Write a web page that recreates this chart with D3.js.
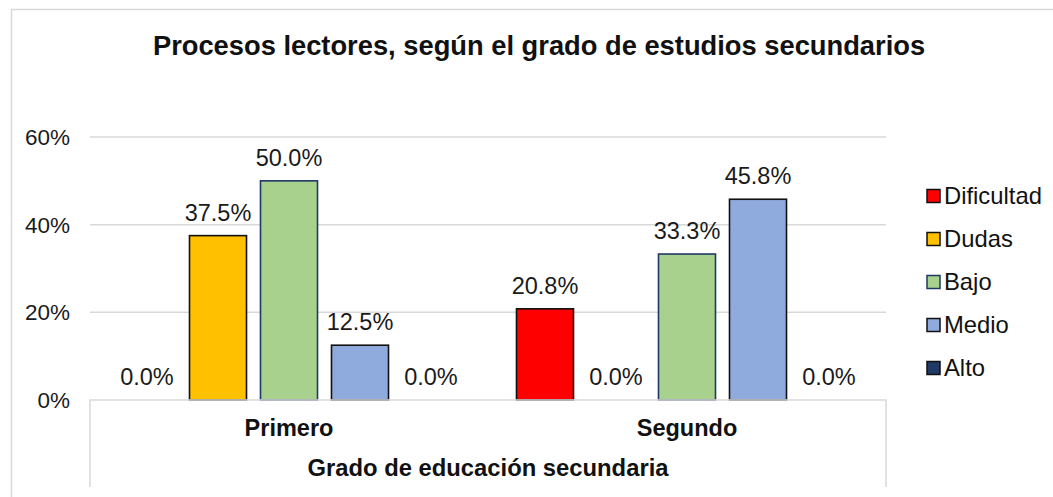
<!DOCTYPE html>
<html>
<head>
<meta charset="utf-8">
<script src="https://cdn.jsdelivr.net/npm/d3@7"></script>
<style>
  html, body { margin: 0; padding: 0; background: #fff; }
  svg { display: block; font-family: "Liberation Sans", Arial, sans-serif; }
</style>
</head>
<body>
<svg id="chart" width="1053" height="497"></svg>
<script>
const categories = ["Primero", "Segundo"];
const seriesNames = ["Dificultad", "Dudas", "Bajo", "Medio", "Alto"];
const dificultad = [0.0, 20.8];
const dudas = [37.5, 0.0];
const bajo = [50.0, 33.3];
const medio = [12.5, 45.8];
const alto = [0.0, 0.0];
const yTicks = [0, 20, 40, 60];
const fills = ["#FF0000", "#FFC000", "#A9D18E", "#8FAADC", "#203864"];
const strokes = ["#111111", "#111111", "#1F3864", "#111111", "#111111"];
const titleText = "Procesos lectores, según el grado de estudios secundarios";
const xTitleText = "Grado de educación secundaria";

const seriesValues = [dificultad, dudas, bajo, medio, alto];
const svg = d3.select("#chart");

// outer chart border
svg.append("path").attr("d", "M11.5,497 L11.5,9.5 L1053,9.5")
  .attr("fill", "none").attr("stroke", "#d9d9d9").attr("stroke-width", 1.5);

const plot = { left: 90, right: 886, top: 137, bottom: 400 };

const y = d3.scaleLinear().domain([0, 60]).range([plot.bottom, plot.top]);
const x0 = d3.scaleBand().domain(categories).range([plot.left, plot.right]).padding(0);
const x1 = d3.scaleBand().domain(seriesNames)
  .range([21.5, x0.bandwidth() - 21.5]).paddingInner(0.197).paddingOuter(0.0985);

// gridlines
svg.append("g").selectAll("line").data(yTicks.filter(d => d > 0)).join("line")
  .attr("x1", plot.left).attr("x2", plot.right)
  .attr("y1", d => y(d)).attr("y2", d => y(d))
  .attr("stroke", "#d9d9d9").attr("stroke-width", 1.5);

// y tick labels
svg.append("g").selectAll("text").data(yTicks).join("text")
  .attr("x", 70).attr("y", d => y(d)).attr("dy", "0.35em")
  .attr("text-anchor", "end").attr("font-size", 22.5).attr("fill", "#1a1a1a")
  .text(d => d + "%");

// title
svg.append("text").attr("x", 539).attr("y", 55).attr("text-anchor", "middle")
  .attr("font-size", 27.3).attr("font-weight", "bold").attr("fill", "#111")
  .text(titleText);

// bars
const groups = svg.append("g").selectAll("g").data(categories).join("g")
  .attr("transform", d => `translate(${x0(d)},0)`);

groups.each(function(cat, ci) {
  const g = d3.select(this);
  seriesNames.forEach((s, si) => {
    const v = seriesValues[si][ci];
    if (v > 0) {
      g.append("rect")
        .attr("x", x1(s)).attr("width", x1.bandwidth())
        .attr("y", y(v)).attr("height", y(0) - y(v))
        .attr("fill", fills[si]).attr("stroke", strokes[si]).attr("stroke-width", 1.6);
    }
    g.append("text")
      .attr("x", x1(s) + x1.bandwidth() / 2).attr("y", y(v) - 15)
      .attr("text-anchor", "middle").attr("font-size", 23.5).attr("fill", "#1a1a1a")
      .text(v.toFixed(1) + "%");
  });
});

// x axis box (table-like)
svg.append("path")
  .attr("d", `M${plot.left},487 L${plot.left},${plot.bottom} L${plot.right},${plot.bottom} L${plot.right},487`)
  .attr("fill", "none").attr("stroke", "#d9d9d9").attr("stroke-width", 1.5);

svg.append("g").selectAll("text").data(categories).join("text")
  .attr("x", d => x0(d) + x0.bandwidth() / 2).attr("y", 436)
  .attr("text-anchor", "middle").attr("font-size", 23.5).attr("font-weight", "bold").attr("fill", "#111")
  .text(d => d);

svg.append("text").attr("x", (plot.left + plot.right) / 2).attr("y", 476)
  .attr("text-anchor", "middle").attr("font-size", 23.8).attr("font-weight", "bold").attr("fill", "#111")
  .text(xTitleText);

// legend
const legend = svg.append("g").selectAll("g").data(seriesNames).join("g")
  .attr("transform", (d, i) => `translate(927,${196 + i * 43})`);
legend.append("rect").attr("x", 0).attr("y", -6.5).attr("width", 13).attr("height", 13)
  .attr("fill", (d, i) => fills[i]).attr("stroke", (d, i) => strokes[i]).attr("stroke-width", 1.5);
legend.append("text").attr("x", 17).attr("y", 0).attr("dy", "0.35em")
  .attr("font-size", 23.8).attr("fill", "#111").text(d => d);
</script>
</body>
</html>
